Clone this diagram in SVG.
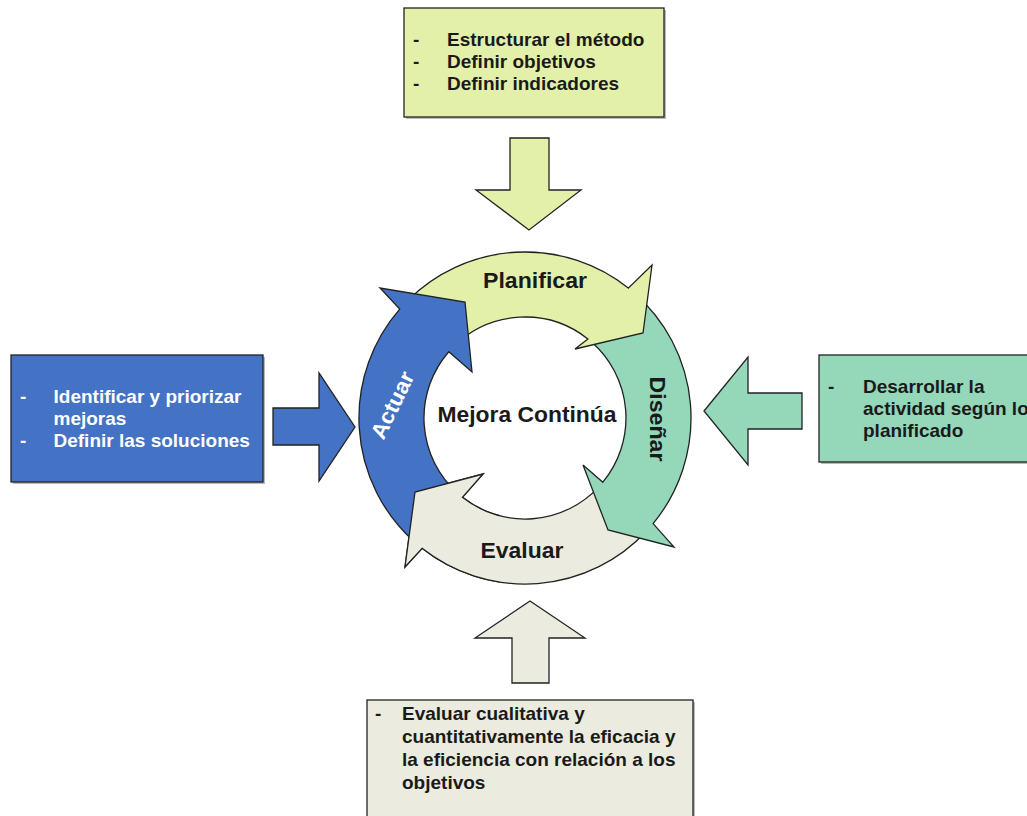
<svg xmlns="http://www.w3.org/2000/svg" width="1027" height="816" viewBox="0 0 1027 816">
<defs>
<style>
.t{font-family:"Liberation Sans",Arial,sans-serif;font-weight:bold;font-size:19px;fill:#1a1a1a}
.tw{fill:#ffffff}
.lbl{font-family:"Liberation Sans",Arial,sans-serif;font-weight:bold;font-size:22px;fill:#1a1a1a}
.edge{stroke:#222;stroke-width:1.3;stroke-linejoin:miter}
.sh{fill:#808080;opacity:0.55}
.yg{fill:#E3F0AA}
.bl{fill:#4472C4}
.tl{fill:#94D7B9}
.gy{fill:#EBECDF}
</style>
<clipPath id="clipE"><rect x="390" y="455" width="110" height="140"/></clipPath>
</defs>
<rect width="1027" height="816" fill="#ffffff"/>

<g id="box-planificar">
<rect class="sh" x="406" y="10" width="260" height="109"/>
<rect class="yg edge" x="404" y="8" width="260" height="109"/>
<text class="t" x="413" y="45.5">-</text>
<text class="t" x="447" y="45.5">Estructurar el método</text>
<text class="t" x="413" y="67.5">-</text>
<text class="t" x="447" y="67.5">Definir objetivos</text>
<text class="t" x="413" y="89.5">-</text>
<text class="t" x="447" y="89.5">Definir indicadores</text>
</g>

<g id="box-actuar">
<rect class="sh" x="13" y="357" width="252" height="127"/>
<rect class="bl edge" x="11" y="355" width="252" height="127"/>
<text class="t tw" x="20" y="403">-</text>
<text class="t tw" x="53.5" y="403">Identificar y priorizar</text>
<text class="t tw" x="53.5" y="425">mejoras</text>
<text class="t tw" x="20" y="447">-</text>
<text class="t tw" x="53.5" y="447">Definir las soluciones</text>
</g>

<g id="box-disenar">
<rect class="sh" x="821" y="357" width="215" height="107"/>
<rect class="tl edge" x="819" y="355" width="215" height="107"/>
<text class="t" x="828" y="393">-</text>
<text class="t" x="863" y="393">Desarrollar la</text>
<text class="t" x="863" y="415">actividad según lo</text>
<text class="t" x="863" y="437">planificado</text>
</g>

<g id="box-evaluar">
<rect class="sh" x="369" y="702" width="326" height="125"/>
<rect class="gy edge" x="367" y="700" width="326" height="125"/>
<text class="t" x="375" y="720">-</text>
<text class="t" x="402" y="720">Evaluar cualitativa y</text>
<text class="t" x="402" y="743">cuantitativamente la eficacia y</text>
<text class="t" x="402" y="766">la eficiencia con relación a los</text>
<text class="t" x="402" y="789">objetivos</text>
</g>

<g id="connectors">
<polygon class="yg edge" points="510,138 549,138 549,190 581,190 529,230 476,190 510,190"/>
<polygon class="bl edge" points="273,408 319,408 319,373 355,427 319,481 319,445 273,445"/>
<polygon class="tl edge" points="704,411 748,357 748,393 802,393 802,429 748,429 748,465"/>
<polygon class="gy edge" points="530,601 585,638 549,638 549,683 512,683 512,638 475,638"/>
</g>

<g id="ring-evaluar">
<path id="pE" class="gy edge" d="M 646.4 531.2 A 166 166 0 0 1 422.1 548.3 L 405 567 L 415 492 L 483 474 L 462.4 497.3 A 101 101 0 0 0 598.9 486.9 Z"/>
</g>
<g id="ring-disenar">
<path class="tl edge" d="M 633.9 292.7 A 166 166 0 0 1 653.1 523.6 L 674 547 L 608 530 L 583 465 L 602.9 482.2 A 101 101 0 0 0 591.3 341.8 Z"/>
</g>
<g id="ring-planificar">
<path class="yg edge" d="M 407.6 300.6 A 166 166 0 0 1 628.3 288.1 L 652 265 L 643 333 L 575 349 L 587.9 339 A 101 101 0 0 0 453.6 346.6 Z"/>
</g>
<g id="ring-actuar">
<path class="bl edge" d="M 413.9 541.4 A 166 166 0 0 1 399.7 309.1 L 380 288 L 465 302 L 472 372 L 448.8 351.7 A 101 101 0 0 0 457.4 493.1 Z"/>
</g>
<use href="#pE" clip-path="url(#clipE)"/>

<g id="labels">
<text class="lbl" x="535" y="288" text-anchor="middle" textLength="104" lengthAdjust="spacingAndGlyphs">Planificar</text>
<text class="lbl" x="522" y="558" text-anchor="middle" textLength="83" lengthAdjust="spacingAndGlyphs">Evaluar</text>
<text class="lbl" transform="translate(658,419) rotate(90)" x="0" y="8" text-anchor="middle" textLength="85" lengthAdjust="spacingAndGlyphs">Diseñar</text>
<text class="lbl" transform="translate(392,405) rotate(-64)" x="0" y="8" text-anchor="middle" textLength="72" lengthAdjust="spacingAndGlyphs" style="fill:#ffffff">Actuar</text>
</g>
<g id="center">
<text class="lbl" x="527" y="422" text-anchor="middle" textLength="179" lengthAdjust="spacingAndGlyphs">Mejora Continúa</text>
</g>
</svg>
